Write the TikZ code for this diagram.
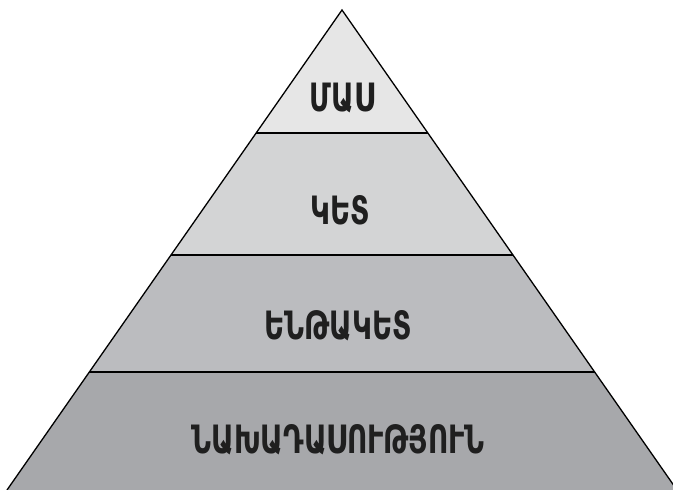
\documentclass[tikz,border=0pt]{standalone}
\usepackage{fontspec}
\usepackage{graphicx}
\usetikzlibrary{calc}
\newfontfamily\armfont{DejaVu Sans Condensed}
\newcommand\tallx[1]{\scalebox{0.97}[1.22]{#1}}
\begin{document}
\begin{tikzpicture}[x=1pt,y=-1pt,
  layer/.style={draw=black,line width=1.3pt,line join=miter},
  lbl/.style={font=\armfont\bfseries\fontsize{32}{36}\selectfont,text=black!88,inner sep=0pt,anchor=base}]
\useasboundingbox (0,0) rectangle (673,490);
\definecolor{c1}{HTML}{E6E6E6}
\definecolor{c2}{HTML}{D3D4D5}
\definecolor{c3}{HTML}{BBBCBF}
\definecolor{c4}{HTML}{A7A8AB}
\coordinate (apex) at (342,10);
\coordinate (bl) at (7,490);
\coordinate (br) at (677,490);
\coordinate (l1) at ($(apex)!0.25625!(bl)$);
\coordinate (r1) at ($(apex)!0.25625!(br)$);
\coordinate (l2) at ($(apex)!0.51042!(bl)$);
\coordinate (r2) at ($(apex)!0.51042!(br)$);
\coordinate (l3) at ($(apex)!0.75417!(bl)$);
\coordinate (r3) at ($(apex)!0.75417!(br)$);
\fill[c1] (apex) -- (l1) -- (r1) -- cycle;
\fill[c2] (l1) -- (l2) -- (r2) -- (r1) -- cycle;
\fill[c3] (l2) -- (l3) -- (r3) -- (r2) -- cycle;
\fill[c4] (l3) -- (bl) -- (br) -- (r3) -- cycle;
\draw[layer] (bl) -- (apex) -- (br);
\draw[layer] (l1) -- (r1);
\draw[layer] (l2) -- (r2);
\draw[layer] (l3) -- (r3);
\node[lbl] (t1) at (342,111) {\tallx{ՄԱՍ}};
\node[lbl] (t2) at (340,224) {\tallx{ԿԵՏ}};
\node[lbl] (t3) at (338,339) {\tallx{ԵՆԹԱԿԵՏ}};
\node[lbl] (t4) at (338,453) {\tallx{ՆԱԽԱԴԱՍՈՒԹՅՈՒՆ}};
\end{tikzpicture}
\end{document}
